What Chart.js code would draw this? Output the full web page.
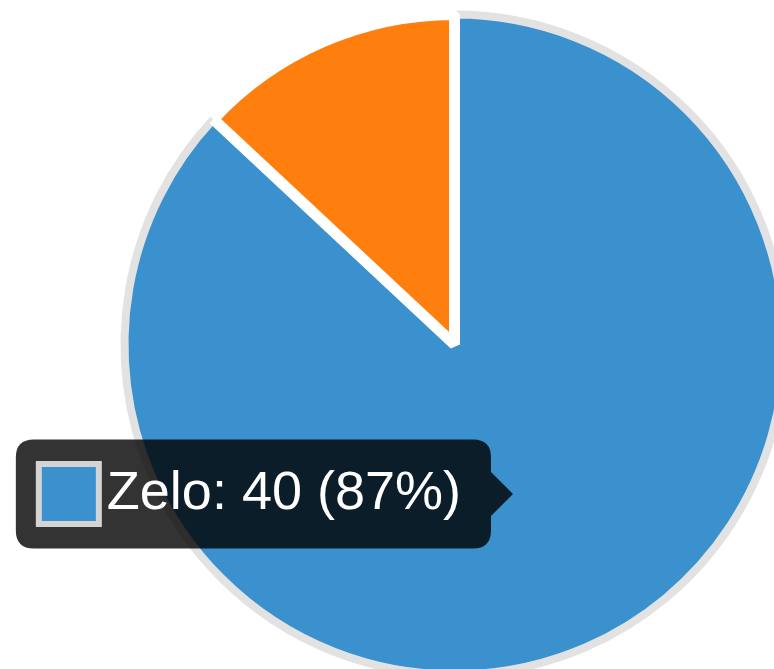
<!DOCTYPE html>
<html lang="pt-BR">
<head>
<meta charset="utf-8">
<title>Zelo</title>
<script src="https://cdn.jsdelivr.net/npm/chart.js@4.4.1/dist/chart.umd.min.js"></script>
<style>
    html, body { margin: 0; padding: 0; background: #ffffff; overflow: hidden; }
    #wrap { position: absolute; left: 0; top: 0; width: 909px; height: 689px; }
</style>
</head>
<body>
<div id="wrap"><canvas id="pieChart"></canvas></div>
<script>
// Dados do gráfico
const categorias = ['Zelo', 'Outros'];
const valores = [40, 6];
const cores = ['#3a91cd', '#ff7f0e'];

// Posicionador do tooltip: usa a posição do "mouse"
Chart.Tooltip.positioners.cursor = function (items, eventPosition) {
    return { x: eventPosition.x, y: eventPosition.y };
};

const total = valores.reduce((a, b) => a + b, 0);
const ctx = document.getElementById('pieChart').getContext('2d');

const chartPizza = new Chart(ctx, {
    type: 'pie',
    data: {
        labels: categorias,
        datasets: [{
            data: valores,
            backgroundColor: cores,
            hoverBackgroundColor: cores,
            borderColor: '#ffffff',
            borderWidth: 11,
            hoverBorderColor: '#e2e2e2',
            hoverBorderWidth: 8,
            hoverOffset: 0,
            drawActiveElementsOnTop: false
        }]
    },
    options: {
        responsive: true,
        maintainAspectRatio: false,
        animation: false,
        events: [],
        layout: { padding: { top: 9, bottom: 9, left: 0, right: 0 } },
        plugins: {
            legend: { display: false },
            tooltip: {
                position: 'cursor',
                xAlign: 'right',
                yAlign: 'center',
                backgroundColor: 'rgba(0,0,0,0.8)',
                bodyColor: '#ffffff',
                bodyFont: { family: "'Liberation Sans', Arial, sans-serif", size: 54 },
                padding: { top: 22, bottom: 22, left: 25, right: 30 },
                cornerRadius: 18,
                caretSize: 22,
                caretPadding: 0,
                boxWidth: 56,
                boxHeight: 56,
                boxPadding: 8,
                displayColors: true,
                callbacks: {
                    title: () => '',
                    label: (item) => {
                        const perc = Math.round(item.raw / total * 100);
                        return `${item.label}: ${item.raw} (${perc}%)`;
                    },
                    labelColor: (item) => ({
                        borderColor: '#d4d4d4',
                        backgroundColor: cores[item.dataIndex],
                        borderWidth: 10,
                        borderRadius: 0
                    })
                }
            }
        }
    }
});

// Deixa a fatia "Zelo" ativa com o tooltip aberto
const ativos = [{ datasetIndex: 0, index: 0 }];
chartPizza.setActiveElements(ativos);
chartPizza.tooltip.setActiveElements(ativos, { x: 513, y: 494 });
chartPizza.update();
</script>
</body>
</html>
